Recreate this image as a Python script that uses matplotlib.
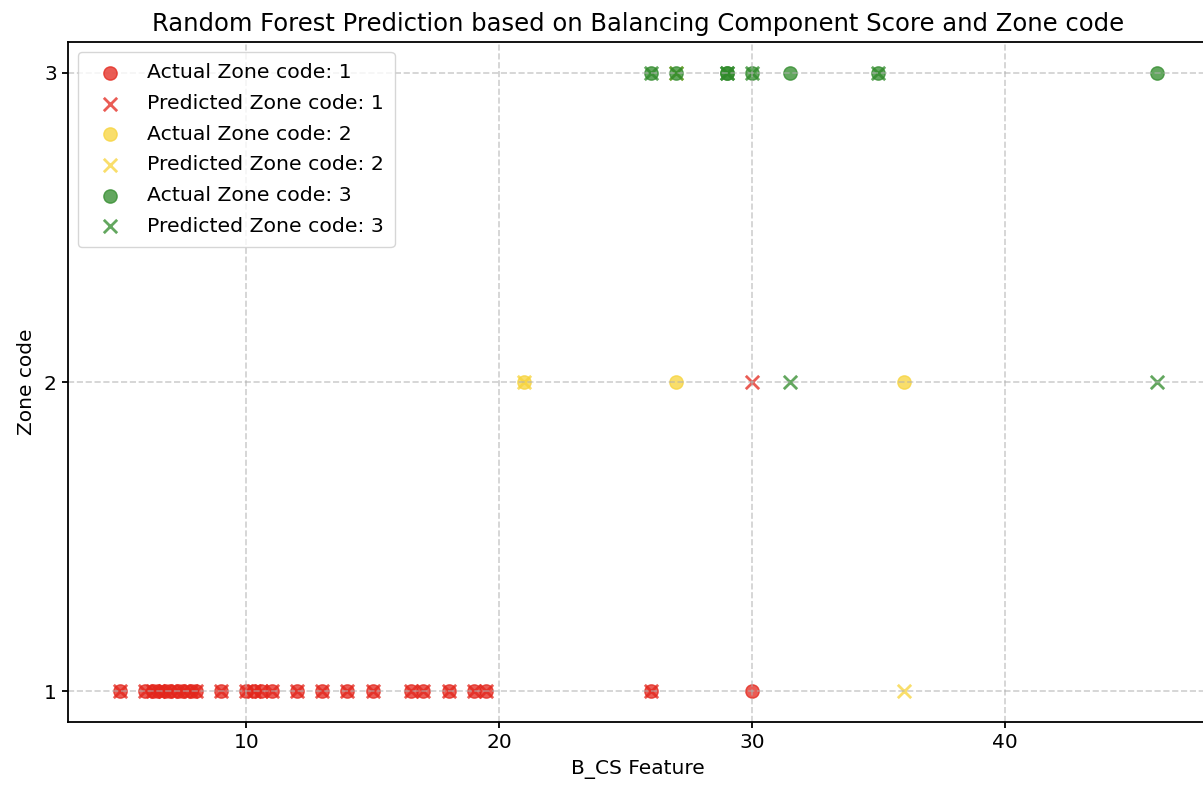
import matplotlib.pyplot as plt

# ── data ─────────────────────────────────────────────────────────────────────
zone_codes = [1, 2, 3]
zone_colors = ['#e3261c', '#f7d33a', '#2f8a2a']

# B_CS feature values, grouped by actual zone code
bcs_zone1 = [5, 6, 6.3, 6.5, 6.8, 7, 7.3, 7.5, 7.8, 8, 9, 10, 10.3, 10.6, 11,
             12, 13, 14, 15, 16.5, 17, 18, 19, 19.5, 26, 30]
bcs_zone2 = [21, 27, 36]
bcs_zone3 = [26, 27, 29, 29, 30, 31.5, 35, 46]

# predicted zone code for each of the points above
pred_zone1 = [1] * 25 + [2]
pred_zone2 = [2, 3, 1]
pred_zone3 = [3, 3, 3, 3, 3, 2, 3, 2]

bcs_values = [bcs_zone1, bcs_zone2, bcs_zone3]
pred_values = [pred_zone1, pred_zone2, pred_zone3]

# ── plot ─────────────────────────────────────────────────────────────────────
fig = plt.figure(figsize=(12.03, 7.87), dpi=100)
ax = fig.add_axes([0.0565, 0.0826, 0.948, 0.864])

for code, color, xs, preds in zip(zone_codes, zone_colors, bcs_values, pred_values):
    ax.scatter(xs, [code] * len(xs), color=color, marker='o', s=92, alpha=0.75,
               label=f'Actual Zone code: {code}')
    ax.scatter(xs, preds, color=color, marker='x', s=92, alpha=0.75,
               linewidths=2.0, label=f'Predicted Zone code: {code}')

ax.set_title('Random Forest Prediction based on Balancing Component Score and Zone code',
             fontsize=17.5, pad=8)
ax.set_xlabel('B_CS Feature', fontsize=14.5, labelpad=6)
ax.set_ylabel('Zone code', fontsize=14.5, labelpad=6)
ax.set_yticks(zone_codes)
ax.tick_params(labelsize=14.5, width=1.3, length=4.5)
ax.grid(True, linestyle='--', color='#b0b0b0', alpha=0.6, linewidth=1.2)
for sp in ax.spines.values():
    sp.set_linewidth(1.3)

ax.legend(loc='upper left', fontsize=14.7, markerscale=1.0, borderpad=0.55,
          labelspacing=0.57, handletextpad=0.8)

fig.savefig('out.png', dpi=100)
